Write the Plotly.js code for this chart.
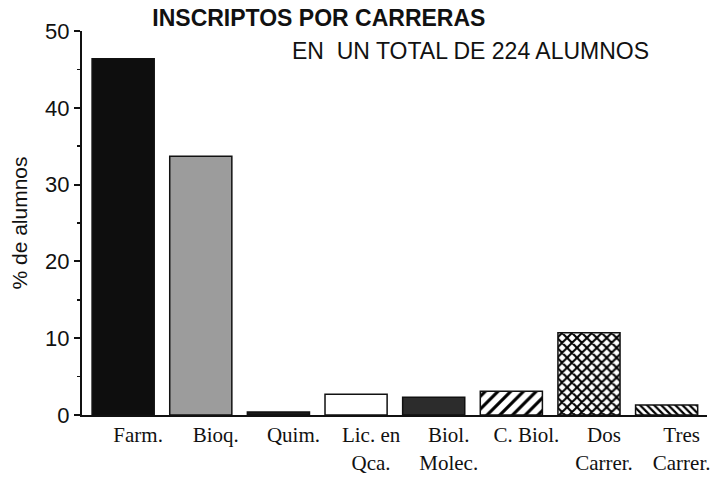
<!DOCTYPE html>
<html>
<head>
<meta charset="utf-8">
<script src="https://cdn.plot.ly/plotly-3.0.1.min.js"></script>
<style>html,body{margin:0;padding:0;background:#fff;}#chart{width:728px;height:477px;}</style>
</head>
<body>
<div id="chart"></div>
<script>
const categories = ["Farm.", "Bioq.", "Quim.", "Lic. en<br>Qca.", "Biol.<br>Molec.", "C. Biol.", "Dos<br>Carrer.", "Tres<br>Carrer."];
const percentages = [46.4, 33.7, 0.4, 2.7, 2.3, 3.1, 10.7, 1.3];
const barColors = ["#0e0e0e", "#9c9c9c", "#1a1a1a", "#ffffff", "#2c2c2c", "#ffffff", "#ffffff", "#ffffff"];
const patternShapes = ["", "", "", "", "", "/", "x", "\\"];
const patternSizes = [8, 8, 8, 8, 8, 9, 7, 5];
const patternSolidity = [0.3, 0.3, 0.3, 0.3, 0.3, 0.35, 0.5, 0.45];
const yTicks = [0, 10, 20, 30, 40, 50];

const traces = categories.map((cat, i) => {
  const marker = {
    color: barColors[i],
    line: {color: "#111", width: 1.5}
  };
  if (patternShapes[i]) {
    marker.pattern = {
      shape: patternShapes[i],
      fgcolor: "#000000",
      fgopacity: 1,
      bgcolor: "#ffffff",
      size: patternSizes[i],
      solidity: patternSolidity[i],
      fillmode: "overlay"
    };
  }
  return {
    type: "bar",
    x: [cat],
    y: [percentages[i]],
    marker: marker,
    width: 0.8,
    hoverinfo: "none"
  };
});

const layout = {
  width: 728, height: 477,
  margin: {l: 82, r: 21, t: 31, b: 62},
  paper_bgcolor: "#fff", plot_bgcolor: "#fff",
  showlegend: false,
  barmode: "overlay",
  title: {
    text: "<b>INSCRIPTOS POR CARRERAS</b>",
    font: {family: "Liberation Sans, Arial, sans-serif", size: 23, color: "#111"},
    x: 0.438, xanchor: "center", xref: "container",
    y: 0.962, yanchor: "middle", yref: "container"
  },
  xaxis: {
    type: "category",
    categoryorder: "array",
    categoryarray: categories,
    range: [-0.53, 7.52],
    showgrid: false, zeroline: false,
    showline: true, linecolor: "#111", linewidth: 2,
    ticks: "",
    ticklabelshift: 15,
    ticklabelstandoff: 0,
    tickfont: {family: "Liberation Serif, Times New Roman, serif", size: 21, color: "#111"}
  },
  yaxis: {
    range: [0, 50],
    tickvals: yTicks,
    showgrid: false, zeroline: false,
    showline: true, linecolor: "#111", linewidth: 2,
    ticks: "outside", ticklen: 6, tickwidth: 2, tickcolor: "#111",
    minor: {dtick: 5, ticks: "outside", ticklen: 3, tickwidth: 1.5, tickcolor: "#111"},
    tickfont: {family: "Liberation Sans, Arial, sans-serif", size: 22, color: "#111"},
    title: {
      text: "% de alumnos",
      font: {family: "Liberation Sans, Arial, sans-serif", size: 21, color: "#111"},
      standoff: 12
    }
  },
  annotations: [{
    text: "EN  UN TOTAL DE 224 ALUMNOS",
    xref: "paper", yref: "paper",
    x: 0.621, y: 0.948, xanchor: "center", yanchor: "middle",
    showarrow: false,
    font: {family: "Liberation Sans, Arial, sans-serif", size: 23, color: "#111"}
  }]
};

Plotly.newPlot("chart", traces, layout, {displayModeBar: false, staticPlot: true});
</script>
</body>
</html>
